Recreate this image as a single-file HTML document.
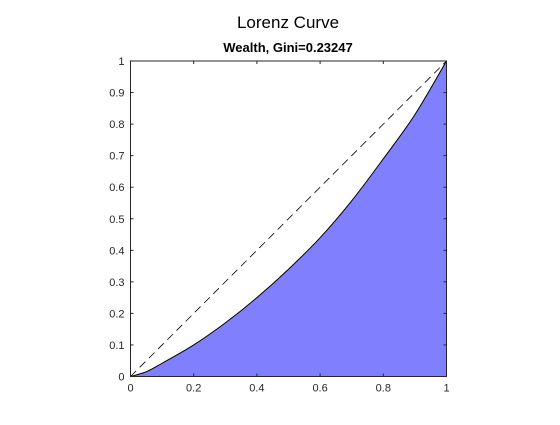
<!DOCTYPE html>
<html><head><meta charset="utf-8"><style>
body{margin:0;background:#fff;}
svg text{font-family:"Liberation Sans",Arial,sans-serif;}
</style></head><body>
<svg id="chart" width="560" height="420" viewBox="0 0 560 420">
<text x="288" y="28" font-size="17" text-anchor="middle" fill="#000">Lorenz Curve</text>
<text x="288" y="52" font-size="13" font-weight="bold" text-anchor="middle" fill="#000">Wealth, Gini=0.23247</text>
<g id="plot"></g>
</svg>
<script>
const popShare=[0,0.05,0.1,0.2,0.3,0.4,0.5,0.6,0.7,0.8,0.9,1];
const wealthShare=[0,0.015,0.042,0.10,0.17,0.25,0.34,0.44,0.557,0.69,0.83,1];
const xTicks=[0,0.2,0.4,0.6,0.8,1];
const xTickLabels=["0","0.2","0.4","0.6","0.8","1"];
const yTicks=[0,0.1,0.2,0.3,0.4,0.5,0.6,0.7,0.8,0.9,1];
const yTickLabels=["0","0.1","0.2","0.3","0.4","0.5","0.6","0.7","0.8","0.9","1"];
const L=130.5,R=446.5,T=61,B=376.5;
const sx=v=>L+v*(R-L), sy=v=>B-v*(B-T);
const g=document.getElementById('plot');
const NS='http://www.w3.org/2000/svg';
function mk(t,a){const e=document.createElementNS(NS,t);for(const k in a)e.setAttribute(k,a[k]);g.appendChild(e);return e;}
const P=popShare.map((p,i)=>[sx(p),sy(wealthShare[i])]);
let d='M'+P[0][0]+','+P[0][1];
for(let i=0;i<P.length-1;i++){
  const p0=P[Math.max(0,i-1)],p1=P[i],p2=P[i+1],p3=P[Math.min(P.length-1,i+2)];
  const c1=[p1[0]+(p2[0]-p0[0])/6,p1[1]+(p2[1]-p0[1])/6];
  const c2=[p2[0]-(p3[0]-p1[0])/6,p2[1]-(p3[1]-p1[1])/6];
  d+=' C'+c1[0]+','+c1[1]+' '+c2[0]+','+c2[1]+' '+p2[0]+','+p2[1];
}
const area=mk('path',{d:d+' L'+sx(1)+','+sy(0)+' Z',fill:'#8080ff',stroke:'none'});


const line=mk('path',{d:d,fill:'none',stroke:'#000','stroke-width':1});


const eq=mk('line',{x1:sx(0),y1:sy(0),x2:sx(1),y2:sy(1),stroke:'#000','stroke-width':0.8,'stroke-dasharray':'8,5'});


const box=mk('rect',{x:L,y:T,width:R-L,height:B-T,fill:'none',stroke:'#262626','stroke-width':1});


xTicks.forEach((v,i)=>{
  const x=sx(v);
  mk('line',{x1:x,y1:B,x2:x,y2:B-3,stroke:'#262626'});
  mk('line',{x1:x,y1:T,x2:x,y2:T+3,stroke:'#262626'});
  const t=mk('text',{x:x,y:B+15,'font-size':11,'text-anchor':'middle',fill:'#262626'});
  t.textContent=xTickLabels[i];
  
  
});
yTicks.forEach((v,i)=>{
  const y=sy(v);
  mk('line',{x1:L,y1:y,x2:L+3,y2:y,stroke:'#262626'});
  mk('line',{x1:R,y1:y,x2:R-3,y2:y,stroke:'#262626'});
  const t=mk('text',{x:L-6,y:y+4,'font-size':11,'text-anchor':'end',fill:'#262626'});
  t.textContent=yTickLabels[i];
  
  
});
</script>
</body></html>
